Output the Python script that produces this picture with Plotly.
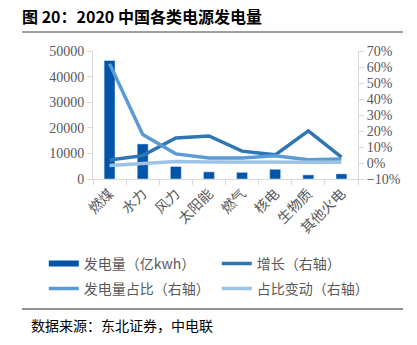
import plotly.graph_objects as go

categories = ["燃煤", "水力", "风力", "太阳能", "燃气", "核电", "生物质", "其他火电"]
generation = [46300, 13700, 4900, 2800, 2600, 3800, 1600, 2000]
growth = [0.019, 0.046, 0.157, 0.169, 0.074, 0.051, 0.201, 0.036]
share = [0.62, 0.178, 0.057, 0.032, 0.032, 0.046, 0.021, 0.025]
share_change = [-0.015, -0.003, 0.010, 0.006, 0.005, 0.004, 0.003, 0.004]

CJK = "Noto Sans CJK SC"
SERIF = "Liberation Serif"
GRAY = "#595959"

fig = go.Figure()
fig.add_trace(go.Bar(x=categories, y=generation, marker_color="#0055A8", width=0.33,
                     showlegend=False, name="发电量（亿kwh）"))
fig.add_trace(go.Scatter(x=[None], y=[None], mode="lines", name="发电量（亿kwh）",
                         legend="legend", line=dict(color="#0055A8", width=6)))
fig.add_trace(go.Scatter(x=categories, y=growth, mode="lines", name="增长（右轴）",
                         legend="legend", yaxis="y2", line=dict(color="#2E75B6", width=3.5)))
fig.add_trace(go.Scatter(x=categories, y=share, mode="lines", name="发电量占比（右轴）",
                         legend="legend2", yaxis="y2", line=dict(color="#5B9BD5", width=3.5)))
fig.add_trace(go.Scatter(x=categories, y=share_change, mode="lines", name="占比变动（右轴）",
                         legend="legend2", yaxis="y2", line=dict(color="#9DC3E6", width=3.5)))

W, H = 417, 345
x0, x1 = 93 / W, 358 / W
yb, yt = 1 - 179 / H, 1 - 51 / H

leg_common = dict(orientation="h", xanchor="left", yanchor="middle",
                  entrywidth=128, entrywidthmode="pixels", traceorder="normal",
                  font=dict(family=CJK, size=14, color=GRAY), itemsizing="trace",
                  bgcolor="rgba(0,0,0,0)")

fig.update_layout(
    width=W, height=H,
    margin=dict(l=0, r=0, t=0, b=0, autoexpand=False),
    paper_bgcolor="white", plot_bgcolor="white",
    font=dict(family=CJK, color=GRAY),
    xaxis=dict(domain=[x0, x1], showline=True, linecolor="#D9D9D9", linewidth=1,
               ticks="outside", tickson="boundaries", ticklen=5, tickcolor="#D9D9D9",
               tickangle=-45, tickfont=dict(family=CJK, size=14, color=GRAY), showgrid=False),
    yaxis=dict(domain=[yb, yt], range=[0, 50000], dtick=10000, tickformat="d", showline=True,
               linecolor="#D9D9D9", ticks="outside", ticklen=5, tickcolor="#D9D9D9",
               showgrid=False, zeroline=False,
               tickfont=dict(family=SERIF, size=14, color=GRAY)),
    yaxis2=dict(overlaying="y", side="right", range=[-0.1, 0.7], dtick=0.1,
                tickformat=".0%", showline=True, linecolor="#D9D9D9", ticks="outside",
                ticklen=5, tickcolor="#D9D9D9", showgrid=False, zeroline=False,
                tickfont=dict(family=SERIF, size=14, color=GRAY)),
    legend=dict(x=0.105, y=1 - 264 / H, **leg_common),
    legend2=dict(x=0.105, y=1 - 289 / H, **leg_common),
    bargap=0.67,
)

fig.add_annotation(text="<b>图 20：2020 中国各类电源发电量</b>", xref="paper", yref="paper",
                   x=20 / W, y=1 - 16 / H, xanchor="left", yanchor="middle", showarrow=False,
                   font=dict(family=CJK, size=16, color="black"))
fig.add_shape(type="line", xref="paper", yref="paper", x0=22 / W, x1=403 / W,
              y0=1 - 32 / H, y1=1 - 32 / H, line=dict(color="#7F7F7F", width=1.5))
fig.add_shape(type="line", xref="paper", yref="paper", x0=22 / W, x1=403 / W,
              y0=1 - 309 / H, y1=1 - 309 / H, line=dict(color="#262626", width=1))
fig.add_annotation(text="数据来源：东北证券，中电联", xref="paper", yref="paper",
                   x=29 / W, y=1 - 325 / H, xanchor="left", yanchor="middle", showarrow=False,
                   font=dict(family=CJK, size=14, color="black"))

fig.write_html("out.html")
